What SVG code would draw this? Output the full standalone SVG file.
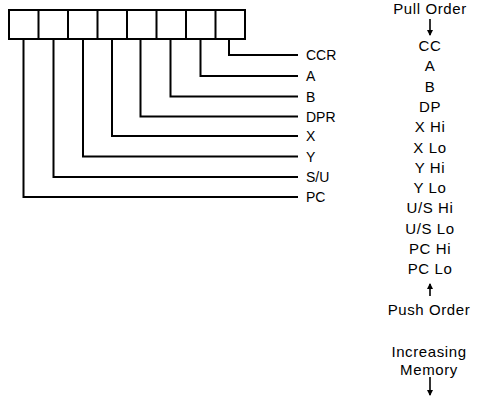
<svg xmlns="http://www.w3.org/2000/svg" width="486" height="397" viewBox="0 0 486 397">
<style>
.ln{fill:none;stroke:#000;stroke-width:2;stroke-linejoin:miter}
.bx{fill:#fff;stroke:#000;stroke-width:2}
.lb{font-family:"Liberation Sans",Arial,sans-serif;font-size:14px;fill:#000}
.rc{font-family:"Liberation Sans",Arial,sans-serif;font-size:15px;fill:#000;text-anchor:middle;letter-spacing:0.6px}
.ar{stroke:#000;stroke-width:1.6;fill:none}
</style>
<defs>
<marker id="ah" viewBox="0 0 6 10" refX="5" refY="5" markerWidth="6" markerHeight="10" markerUnits="userSpaceOnUse" orient="auto">
<path d="M0,2 L6,5 L0,8 Z" fill="#000"/>
</marker>
</defs>
<rect width="486" height="397" fill="#fff"/>
<g id="register">
<rect class="bx" x="9" y="10" width="236" height="29"/>
<path class="ln" d="M38.5,10V39M68,10V39M97.5,10V39M127,10V39M156.5,10V39M186,10V39M215.5,10V39"/>
</g>
<g id="connectors">
<path class="ln" d="M229,39V55H298"/>
<path class="ln" d="M200.5,39V76H298"/>
<path class="ln" d="M170.5,39V96.5H298"/>
<path class="ln" d="M140.5,39V116.5H298"/>
<path class="ln" d="M112,39V136H298"/>
<path class="ln" d="M83,39V156.5H298"/>
<path class="ln" d="M53.5,39V177H298"/>
<path class="ln" d="M23.5,39V197H298"/>
<path class="ar" d="M430,19V35" marker-end="url(#ah)"/>
<path class="ar" d="M430,296V284" marker-end="url(#ah)"/>
<path class="ar" d="M430,377V395" marker-end="url(#ah)"/>
</g>
<g id="labels">
<text class="lb" x="306" y="60">CCR</text>
<text class="lb" x="306" y="81">A</text>
<text class="lb" x="306" y="101.5">B</text>
<text class="lb" x="306" y="121.5">DPR</text>
<text class="lb" x="306" y="141">X</text>
<text class="lb" x="306" y="161.5">Y</text>
<text class="lb" x="306" y="182">S/U</text>
<text class="lb" x="306" y="202">PC</text>
</g>
<g id="stack">
<text class="rc" x="430" y="14">Pull Order</text>
<text class="rc" x="430" y="50.5">CC</text>
<text class="rc" x="430" y="71">A</text>
<text class="rc" x="430" y="91.5">B</text>
<text class="rc" x="430" y="112">DP</text>
<text class="rc" x="430" y="132">X Hi</text>
<text class="rc" x="430" y="152.5">X Lo</text>
<text class="rc" x="430" y="172.5">Y Hi</text>
<text class="rc" x="430" y="193">Y Lo</text>
<text class="rc" x="430" y="213.3">U/S Hi</text>
<text class="rc" x="430" y="233.5">U/S Lo</text>
<text class="rc" x="430" y="253.5">PC Hi</text>
<text class="rc" x="430" y="274">PC Lo</text>
<text class="rc" x="429" y="315">Push Order</text>
<text class="rc" x="429" y="357">Increasing</text>
<text class="rc" x="429" y="374.5">Memory</text>
</g>
</svg>
